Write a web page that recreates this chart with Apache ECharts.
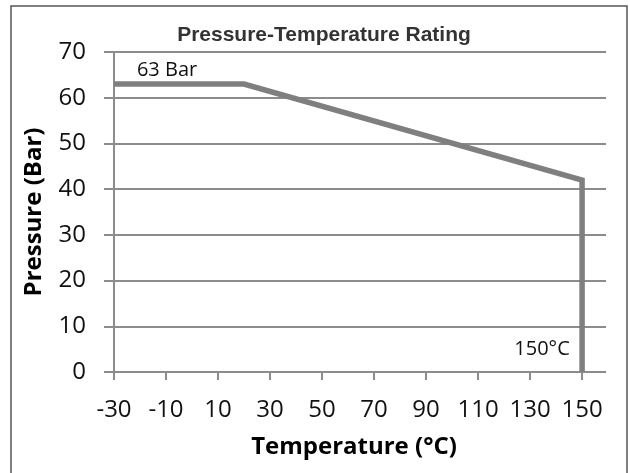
<!DOCTYPE html>
<html>
<head>
<meta charset="utf-8">
<script src="https://cdn.jsdelivr.net/npm/echarts@6/dist/echarts.min.js"></script>
<style>
    html, body { margin: 0; padding: 0; background: #fff; }
    #chart { width: 630px; height: 473px; }
</style>
</head>
<body>
<div id="chart"></div>
<script>
    // rating curve (temperature °C, pressure bar)
    var temps = [-30, 20, 150, 150];
    var pressures = [63, 63, 42, 0];
    var xTicks = [-30, -10, 10, 30, 50, 70, 90, 110, 130, 150];
    var yTicks = [0, 10, 20, 30, 40, 50, 60, 70];
    // text notes placed in data units
    var noteText = ['63 Bar', '150°C'];
    var noteX = [-9.6, 134.6];
    var noteY = [66.0, 5.0];

    var font = 'Open Sans';
    var chart = echarts.init(document.getElementById('chart'));

    var pts = temps.map(function (t, i) { return [t, pressures[i]]; });
    var notes = noteText.map(function (s, i) {
        return { coord: [noteX[i], noteY[i]], value: s };
    });

    chart.setOption({
        animation: false,
        title: {
            text: 'Pressure-Temperature Rating',
            left: 319,
            textAlign: 'center',
            top: 20,
            textStyle: {
                fontFamily: 'Liberation Sans',
                fontWeight: 'bold',
                fontSize: 21,
                color: '#333'
            }
        },
        graphic: [{
            type: 'rect',
            shape: { x: 11, y: 6, width: 616, height: 470 },
            style: { fill: 'none', stroke: '#555', lineWidth: 1.5 }
        }],
        grid: { left: 114, right: 24, top: 52, bottom: 101 },
        xAxis: {
            type: 'value',
            min: -30,
            max: 159.2,
            interval: 20,
            name: 'Temperature (°C)',
            nameLocation: 'middle',
            nameGap: 63,
            nameTextStyle: {
                fontFamily: font, fontWeight: 'bold', fontSize: 24, color: '#000',
                padding: [0, 12, 0, 0]
            },
            axisLine: { show: false },
            axisTick: {
                show: true, length: 8, customValues: xTicks,
                lineStyle: { color: '#8c8c8c', width: 2 }
            },
            axisLabel: {
                customValues: xTicks, margin: 26,
                fontFamily: font, fontSize: 24, color: '#111'
            },
            splitLine: { show: false }
        },
        yAxis: {
            type: 'value',
            min: 0,
            max: 70,
            interval: 10,
            name: 'Pressure (Bar)',
            nameLocation: 'middle',
            nameGap: 68,
            nameTextStyle: { fontFamily: font, fontWeight: 'bold', fontSize: 24, color: '#000' },
            axisLine: { show: true, onZero: false, lineStyle: { color: '#8c8c8c', width: 2 } },
            axisTick: { show: true, length: 10, lineStyle: { color: '#8c8c8c', width: 2 } },
            axisLabel: {
                margin: 28, fontFamily: font, fontSize: 24, color: '#111',
                formatter: function (v) { return yTicks.indexOf(v) >= 0 ? String(v) : ''; }
            },
            splitLine: { show: true, lineStyle: { color: '#8c8c8c', width: 2 } }
        },
        series: [{
            type: 'line',
            data: pts,
            symbol: 'none',
            lineStyle: { color: '#7f7f7f', width: 5.5, join: 'miter' },
            z: 3,
            markPoint: {
                symbol: 'circle',
                symbolSize: 0,
                label: {
                    show: true,
                    position: 'inside',
                    formatter: '{c}',
                    fontFamily: font,
                    fontSize: 20,
                    color: '#111'
                },
                data: notes
            }
        }]
    });
</script>
</body>
</html>
